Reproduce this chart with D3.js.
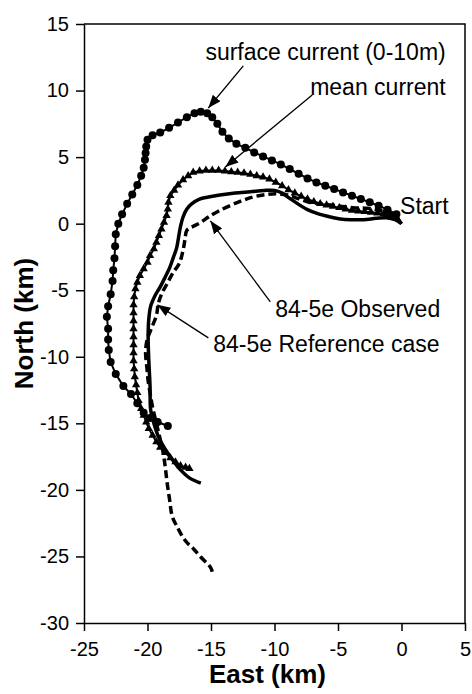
<!DOCTYPE html>
<html>
<head>
<meta charset="utf-8">
<script src="https://d3js.org/d3.v7.min.js"></script>
<style>
    body { margin: 0; background: #fff; }
    text { font-family: Arial, "Liberation Sans", sans-serif; fill: #000; }
</style>
</head>
<body>
<div id="drift_chart"></div>
<script>
// tick values of the two axes
var eastTicks = [-25, -20, -15, -10, -5, 0, 5];
var northTicks = [-30, -25, -20, -15, -10, -5, 0, 5, 10, 15];

// drift tracks, each point is [east km, north km]
var surfaceCurrent = [
    [0, 0], [-0.4, 0.7], [-1.1, 1.05], [-1.8, 1.35], [-2.5, 1.6], [-3.2, 1.85], [-3.9, 2.1],
    [-4.6, 2.35], [-5.3, 2.6], [-6.0, 2.85], [-6.7, 3.1], [-7.4, 3.4], [-8.1, 3.75], [-8.8, 4.1],
    [-9.5, 4.45], [-10.2, 4.75], [-10.9, 5.05], [-11.6, 5.35], [-12.3, 5.7], [-13.0, 6.0],
    [-13.6, 6.4], [-14.1, 6.9], [-14.5, 7.5], [-14.9, 8.0], [-15.3, 8.3], [-15.8, 8.4],
    [-16.3, 8.3], [-16.9, 8.0], [-17.6, 7.6], [-18.3, 7.2], [-19.0, 6.85], [-19.6, 6.65],
    [-20.0, 6.3], [-20.1, 5.8], [-20.15, 5.3], [-20.2, 4.8], [-20.3, 4.2], [-20.5, 3.6],
    [-20.8, 2.9], [-21.2, 2.2], [-21.6, 1.5], [-22.0, 0.7], [-22.3, 0], [-22.5, -0.8],
    [-22.55, -1.7], [-22.6, -2.6], [-22.7, -3.5], [-22.75, -4.3], [-22.9, -5.3], [-23.1, -6.2],
    [-23.2, -7.0], [-23.1, -7.9], [-23.1, -8.7], [-23.05, -9.5], [-22.9, -10.4], [-22.5, -11.3],
    [-21.9, -12.2], [-21.3, -12.8], [-20.8, -13.5], [-20.3, -14.2], [-19.8, -14.6],
    [-19.2, -14.9], [-18.4, -15.2]
];

var meanCurrent = [
    [0, 0], [-0.4, 0.5], [-0.9, 0.65], [-1.4, 0.75], [-1.9, 0.8], [-2.4, 0.85], [-2.9, 0.9],
    [-3.4, 0.95], [-3.9, 1.0], [-4.4, 1.1], [-4.9, 1.2], [-5.4, 1.3], [-5.9, 1.4], [-6.4, 1.5],
    [-6.9, 1.65], [-7.4, 1.85], [-7.9, 2.05], [-8.4, 2.3], [-8.9, 2.55], [-9.4, 2.85],
    [-9.9, 3.1], [-10.4, 3.35], [-10.9, 3.5], [-11.4, 3.6], [-11.9, 3.7], [-12.4, 3.8],
    [-12.9, 3.85], [-13.4, 3.9], [-13.9, 3.95], [-14.4, 4.0], [-14.9, 4.0], [-15.4, 4.0],
    [-15.9, 3.95], [-16.4, 3.85], [-16.8, 3.6], [-17.2, 3.3], [-17.6, 2.9], [-17.9, 2.5],
    [-18.2, 2.1], [-18.35, 1.6], [-18.4, 1.1], [-18.5, 0.6], [-18.7, 0.1], [-18.9, -0.4],
    [-19.1, -0.9], [-19.3, -1.4], [-19.5, -1.9], [-19.8, -2.4], [-20.0, -2.9], [-20.3, -3.4],
    [-20.6, -3.9], [-20.8, -4.4], [-20.95, -4.9], [-21.05, -5.5], [-21.1, -6.1], [-21.1, -6.7],
    [-21.1, -7.3], [-21.1, -7.9], [-21.1, -8.5], [-21.1, -9.1], [-21.1, -9.7], [-21.1, -10.3],
    [-21.05, -10.9], [-21.0, -11.5], [-20.9, -12.1], [-20.8, -12.7], [-20.7, -13.3],
    [-20.5, -13.9], [-20.3, -14.4], [-20.1, -14.9], [-19.9, -15.4], [-19.6, -15.9],
    [-19.3, -16.4], [-19.0, -16.8], [-18.6, -17.2], [-18.2, -17.6], [-17.8, -17.9],
    [-17.4, -18.2], [-17.0, -18.3], [-16.7, -18.4]
];

var observed = [
    [0, 0], [-0.7, 0.75], [-1.7, 1.0], [-2.7, 1.15], [-3.8, 1.2], [-4.7, 1.3], [-5.6, 1.4],
    [-6.5, 1.5], [-7.4, 1.65], [-8.2, 1.9], [-9.0, 2.15], [-9.8, 2.25], [-10.6, 2.2],
    [-11.7, 2.0], [-12.9, 1.6], [-14.3, 1.0], [-15.2, 0.5], [-15.8, 0.1], [-16.4, -0.2],
    [-16.9, -0.5], [-17.05, -1.2], [-17.2, -2.0], [-17.5, -3.0], [-18.0, -3.7], [-18.45, -4.5],
    [-18.85, -5.2], [-19.15, -6.0], [-19.3, -6.9], [-19.75, -8.0], [-20.05, -8.8],
    [-20.15, -9.7], [-20.05, -10.8], [-19.95, -11.8], [-19.8, -12.7], [-19.6, -13.8],
    [-19.3, -15.0], [-19.0, -16.2], [-18.75, -17.3], [-18.6, -18.3], [-18.45, -19.5],
    [-18.25, -20.8], [-18.05, -22.0], [-17.65, -22.8], [-17.25, -23.5], [-16.85, -24.0],
    [-16.4, -24.4], [-15.85, -25.0], [-15.05, -25.8], [-14.9, -26.15]
];

var referenceCase = [
    [0, 0], [-0.5, 0.3], [-1.2, 0.45], [-2.0, 0.4], [-3.0, 0.3], [-4.0, 0.3], [-4.8, 0.35],
    [-5.6, 0.5], [-6.6, 0.75], [-7.4, 1.05], [-8.1, 1.45], [-8.8, 1.9], [-9.4, 2.3],
    [-10.0, 2.5], [-10.8, 2.5], [-11.9, 2.4], [-13.1, 2.3], [-14.3, 2.15], [-15.2, 2.0],
    [-15.9, 1.85], [-16.5, 1.5], [-16.9, 1.1], [-17.2, 0.5], [-17.4, -0.2], [-17.55, -1.0],
    [-17.7, -1.8], [-17.95, -2.5], [-18.25, -3.3], [-18.6, -4.0], [-19.0, -4.75], [-19.4, -5.4],
    [-19.75, -6.2], [-19.9, -7.2], [-19.95, -8.5], [-19.9, -10.2], [-19.8, -12.2],
    [-19.75, -14.0], [-19.5, -15.0], [-19.1, -16.1], [-18.5, -17.1], [-17.9, -17.9],
    [-17.4, -18.5], [-16.7, -19.1], [-15.8, -19.5]
];

// text labels with their pointer lines (in km)
var notes = [
    { label: "surface current (0-10m)", at: [-15.44, 12.3], from: [-12.46, 11.85], to: [-15.21, 8.69] },
    { label: "mean current", at: [-7.19, 9.67], from: [-7.03, 9.67], to: [-13.87, 4.26] },
    { label: "Start", at: [-0.11, 0.73] },
    { label: "84-5e Observed", at: [-9.94, -7.0], from: [-10.33, -5.87], to: [-15.05, 0.21] },
    { label: "84-5e Reference case", at: [-14.82, -9.63], from: [-15.21, -8.58], to: [-19.22, -6.1] }
];

// set the dimensions and margins of the chart
var margin = { top: 24, right: 7, bottom: 71, left: 84 },
    width = 472 - margin.left - margin.right,
    height = 694 - margin.top - margin.bottom;

var svg = d3.select("#drift_chart")
    .append("svg")
    .attr("width", width + margin.left + margin.right)
    .attr("height", height + margin.top + margin.bottom)
    .append("g")
    .attr("transform", "translate(" + margin.left + "," + margin.top + ")");

// arrow head for the label pointers
svg.append("defs")
    .append("marker")
    .attr("id", "arrowHead")
    .attr("viewBox", "0 0 13 10")
    .attr("refX", 13)
    .attr("refY", 5)
    .attr("markerWidth", 13)
    .attr("markerHeight", 10)
    .attr("markerUnits", "userSpaceOnUse")
    .attr("orient", "auto")
    .append("path")
    .attr("d", "M0,0L13,5L0,10Z")
    .attr("fill", "black");

// plain hyphen for negative numbers, as in the original
var plain = function (d) { return String(d); };

// Add X axis
var x = d3.scaleLinear()
    .domain([-25, 5])
    .range([0, width]);
var xAxis = svg.append("g")
    .attr("transform", "translate(0," + height + ")")
    .call(d3.axisBottom(x).tickValues(eastTicks).tickFormat(plain)
        .tickSize(8).tickPadding(11).tickSizeOuter(0));

// Add Y axis
var y = d3.scaleLinear()
    .domain([-30, 15])
    .range([height, 0]);
var yAxis = svg.append("g")
    .call(d3.axisLeft(y).tickValues(northTicks).tickFormat(plain)
        .tickSize(8).tickPadding(7).tickSizeOuter(0));

[xAxis, yAxis].forEach(function (ax) {
    ax.selectAll("path, line").attr("stroke", "black").attr("stroke-width", 1.5);
    ax.selectAll("text").style("font-size", "20px").attr("fill", "black");
});

// top and right border of the plot
svg.append("path")
    .attr("fill", "none")
    .attr("stroke", "black")
    .attr("stroke-width", 1.5)
    .attr("d", "M0,0H" + width + "V" + height);

// axis titles
svg.append("text")
    .attr("text-anchor", "middle")
    .attr("x", width / 2 - 7)
    .attr("y", height + 60)
    .style("font-size", "26px")
    .style("font-weight", "bold")
    .text("East (km)");

svg.append("text")
    .attr("text-anchor", "middle")
    .attr("transform", "translate(" + (33 - margin.left) + "," + (height / 2) + ") rotate(-90)")
    .style("font-size", "26px")
    .style("font-weight", "bold")
    .text("North (km)");

var smooth = d3.line()
    .x(function (d) { return x(d[0]); })
    .y(function (d) { return y(d[1]); })
    .curve(d3.curveCatmullRom.alpha(0.5));

var straight = d3.line()
    .x(function (d) { return x(d[0]); })
    .y(function (d) { return y(d[1]); });

// observed track, dashed
svg.append("path")
    .datum(observed)
    .attr("fill", "none")
    .attr("stroke", "black")
    .attr("stroke-width", 3.5)
    .attr("stroke-dasharray", "8,4")
    .attr("d", smooth);

// reference case, thick solid
svg.append("path")
    .datum(referenceCase)
    .attr("fill", "none")
    .attr("stroke", "black")
    .attr("stroke-width", 3.5)
    .attr("d", smooth);

// mean current with triangles
svg.append("path")
    .datum(meanCurrent)
    .attr("fill", "none")
    .attr("stroke", "black")
    .attr("stroke-width", 2)
    .attr("d", straight);

svg.selectAll(".tri")
    .data(meanCurrent.slice(1))
    .enter()
    .append("path")
    .attr("class", "tri")
    .attr("d", d3.symbol().type(d3.symbolTriangle).size(30))
    .attr("transform", function (d) { return "translate(" + x(d[0]) + "," + y(d[1]) + ")"; })
    .attr("fill", "black");

// surface current with dots
svg.append("path")
    .datum(surfaceCurrent)
    .attr("fill", "none")
    .attr("stroke", "black")
    .attr("stroke-width", 2)
    .attr("d", straight);

svg.selectAll(".dot")
    .data(surfaceCurrent.slice(1))
    .enter()
    .append("circle")
    .attr("class", "dot")
    .attr("cx", function (d) { return x(d[0]); })
    .attr("cy", function (d) { return y(d[1]); })
    .attr("r", 4)
    .attr("fill", "black");

// labels and pointers
notes.forEach(function (n) {
    if (n.from) {
        svg.append("line")
            .attr("x1", x(n.from[0]))
            .attr("y1", y(n.from[1]))
            .attr("x2", x(n.to[0]))
            .attr("y2", y(n.to[1]))
            .attr("stroke", "black")
            .attr("stroke-width", 1.3)
            .attr("marker-end", "url(#arrowHead)");
    }
    svg.append("text")
        .attr("x", x(n.at[0]))
        .attr("y", y(n.at[1]))
        .style("font-size", "23px")
        .text(n.label);
});
</script>
</body>
</html>
